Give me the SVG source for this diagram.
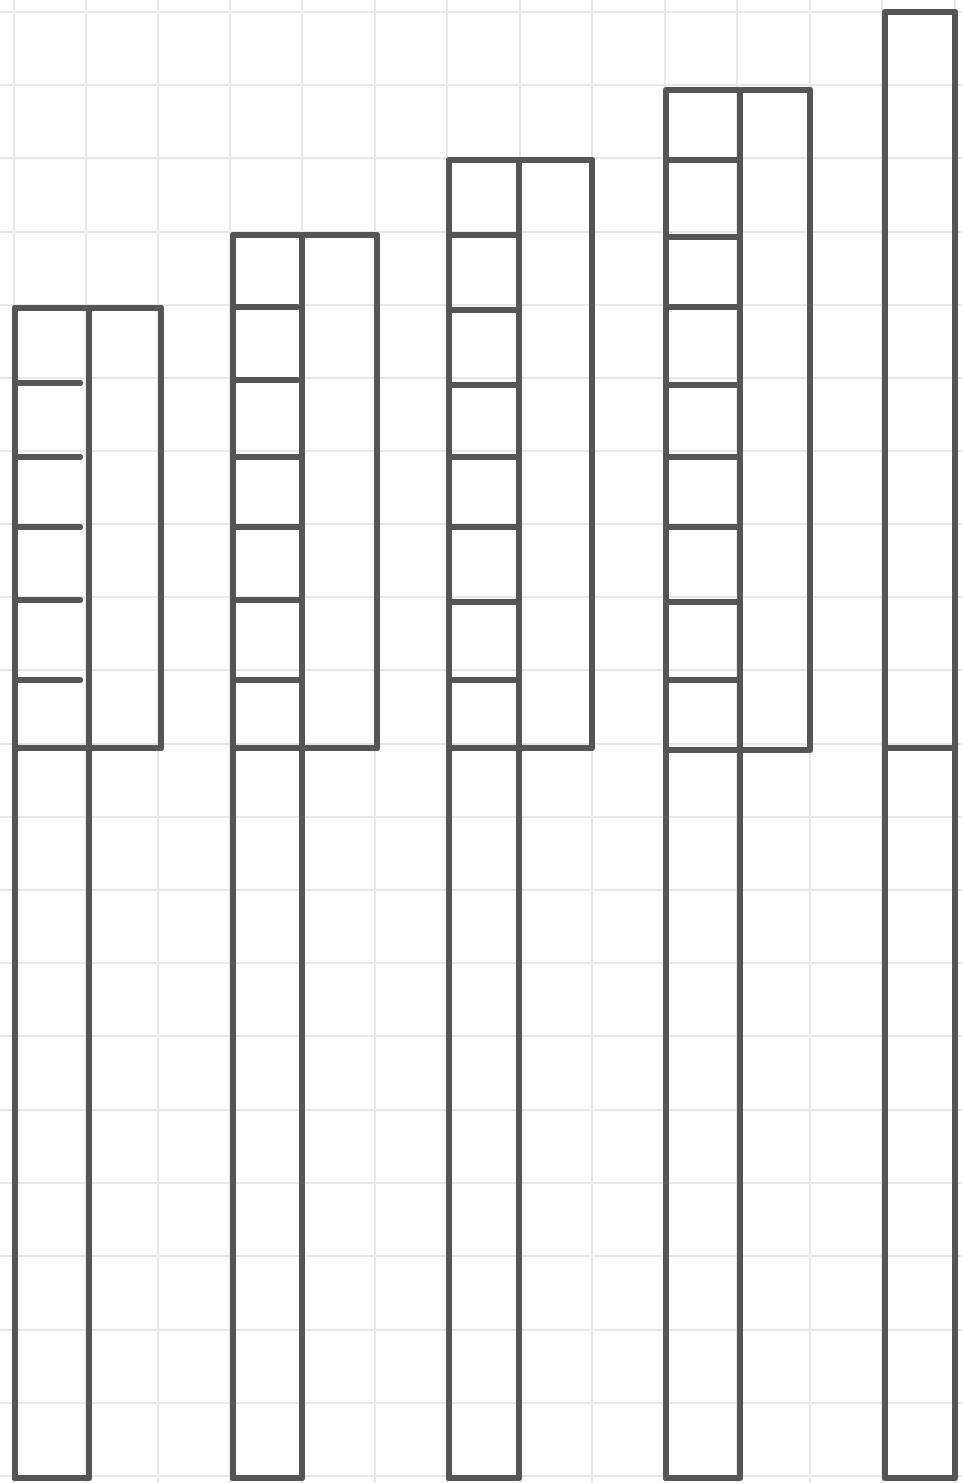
<svg xmlns="http://www.w3.org/2000/svg" width="962" height="1483" viewBox="0 0 962 1483">
<style>
.grid{stroke:#e8e8e8;stroke-width:2;fill:none}
.ink{stroke:#555;stroke-width:6;fill:none;stroke-linejoin:round;stroke-linecap:round}
</style>
<rect width="962" height="1483" fill="#fff"/>
<g id="grid" class="grid">
<path d="M14 0V1483M86 0V1483M158 0V1483M230 0V1483M302 0V1483M375 0V1483M447 0V1483M520 0V1483M592 0V1483M665 0V1483M737 0V1483M810 0V1483M882 0V1483M955 0V1483"/>
<path d="M0 12H962M0 85H962M0 158H962M0 232H962M0 305H962M0 378H962M0 451H962M0 524H962M0 597H962M0 670H962M0 744H962M0 817H962M0 890H962M0 963H962M0 1036H962M0 1110H962M0 1183H962M0 1256H962M0 1330H962M0 1403H962M0 1476H962"/>
</g>
<g id="bar1" class="ink">
<path d="M15 1478V308H161V748H15"/>
<path d="M89 308V1478H15"/>
<path d="M15 383H80M15 457H80M15 527H80M15 600H80M15 680H80"/>
</g>
<g id="bar2" class="ink">
<path d="M233 1478V235H377V748H233"/>
<path d="M302 235V1478H233"/>
<path d="M233 307H297M233 380H297M233 457H299M233 527H299M233 600H300M233 680H300"/>
</g>
<g id="bar3" class="ink">
<path d="M449 1478V160H592V748H449"/>
<path d="M519 160V1478H449"/>
<path d="M449 235H517M449 310H517M449 385H517M449 457H517M449 527H519M449 602H519M449 680H519"/>
</g>
<g id="bar4" class="ink">
<path d="M666 1478V90H810V750H666"/>
<path d="M740 90V1478H666"/>
<path d="M666 160H738M666 237H738M666 307H738M666 385H738M666 457H738M666 527H738M666 602H738M666 680H738"/>
</g>
<g id="bar5" class="ink">
<path d="M885 1478V12H955V1478H885"/>
<path d="M885 748H955"/>
</g>
</svg>
